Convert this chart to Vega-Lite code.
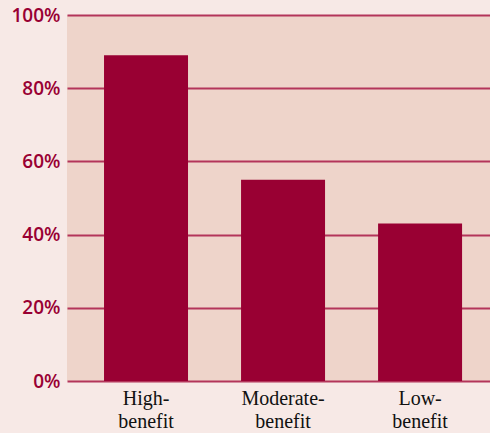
{
  "$schema": "https://vega.github.io/schema/vega-lite/v6.json",
  "width": 423,
  "height": 366,
  "autosize": {"type": "none"},
  "padding": {"left": 67, "top": 15, "right": 0, "bottom": 52},
  "background": "#F7E9E6",
  "view": {"fill": "#EED4CA", "stroke": null},
  "data": {
    "values": [
      {"group": "High-benefit", "share": 89},
      {"group": "Moderate-benefit", "share": 55},
      {"group": "Low-benefit", "share": 43}
    ]
  },
  "mark": {"type": "bar", "color": "#990033"},
  "encoding": {
    "x": {
      "field": "group",
      "type": "nominal",
      "sort": null,
      "scale": {"paddingInner": 0.387, "paddingOuter": 0.237, "align": 0.57},
      "axis": {
        "title": null,
        "domain": false,
        "ticks": false,
        "labelAngle": 0,
        "labelFont": "Liberation Serif",
        "labelFontSize": 20,
        "labelColor": "#111111",
        "labelLineHeight": 23,
        "labelPadding": 7,
        "labelExpr": "[slice(datum.value, 0, indexof(datum.value, '-') + 1), slice(datum.value, indexof(datum.value, '-') + 1)]"
      }
    },
    "y": {
      "field": "share",
      "type": "quantitative",
      "scale": {"domain": [0, 100], "nice": false},
      "axis": {
        "title": null,
        "values": [0, 20, 40, 60, 80, 100],
        "labelExpr": "datum.value + '%'",
        "domain": false,
        "ticks": false,
        "grid": true,
        "gridColor": "#B3355A",
        "gridWidth": 2,
        "gridOpacity": 1,
        "labelFont": "Open Sans",
        "labelFontSize": 19,
        "labelFontWeight": 600,
        "labelColor": "#990033",
        "labelPadding": 7
      }
    }
  }
}
